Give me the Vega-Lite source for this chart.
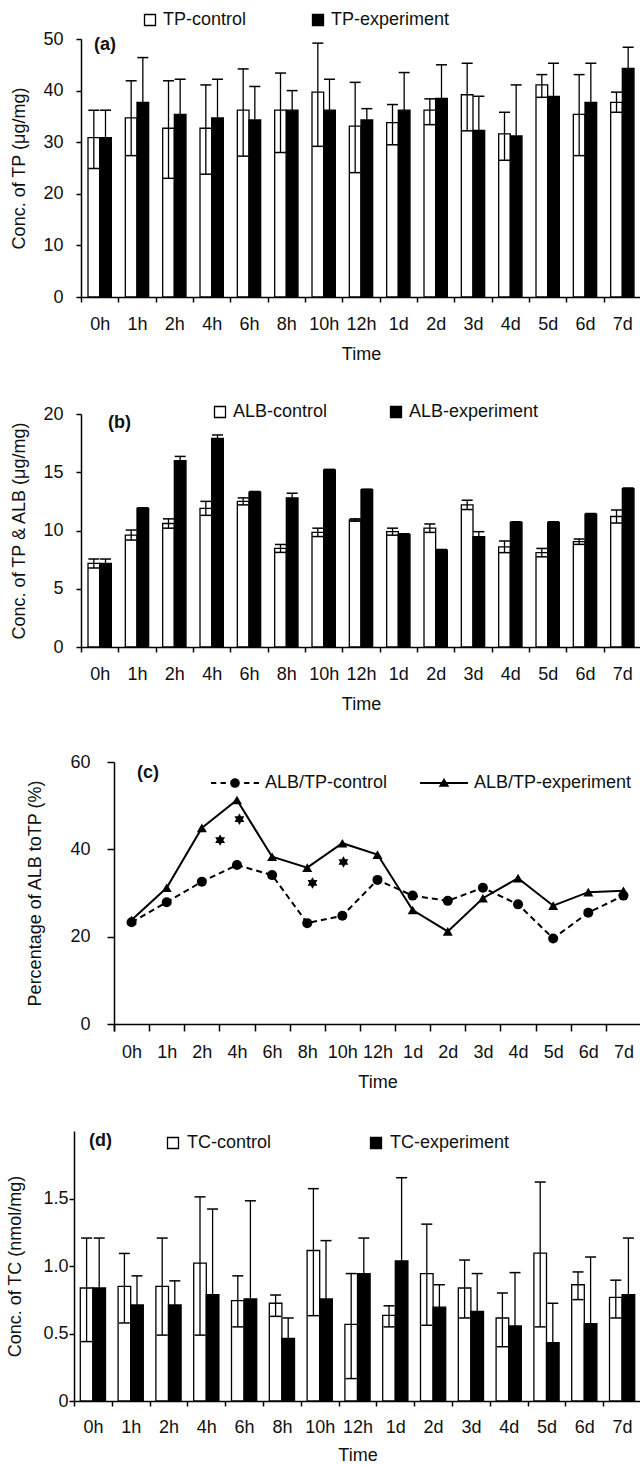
{
  "$schema": "https://vega.github.io/schema/vega-lite/v6.json",
  "background": "white",
  "padding": {"left": 6, "top": 11, "right": 0, "bottom": 0},
  "spacing": 40,
  "config": {
    "font": "Liberation Sans",
    "view": {"stroke": null},
    "axis": {
      "domainColor": "black", "domainWidth": 1.5, "tickColor": "black", "tickWidth": 1.5, "tickSize": 5,
      "labelFontSize": 18, "labelColor": "#111", "titleFontSize": 18, "titleFontWeight": "normal", "titleColor": "#111",
      "grid": false, "labelOverlap": false, "labelFont": "Liberation Sans", "titleFont": "Liberation Sans"
    },
    "axisX": {"labelAngle": 0, "labelPadding": 13, "titlePadding": 12, "tickBand": "extent", "labelFlush": false},
    "legend": {"labelFontSize": 18, "labelColor": "#111", "labelFont": "Liberation Sans"},
    "title": {"fontSize": 18, "fontWeight": "bold", "font": "Liberation Sans", "color": "#111"}
  },
  "resolve": {
    "scale": {"fill": "independent", "shape": "independent", "x": "independent", "y": "independent", "xOffset": "independent"},
    "legend": {"fill": "independent", "shape": "independent"}
  },
  "datasets": {
    "tp": [
      {"time": "0h", "series": "TP-control", "value": 30.9, "lo": 24.9, "hi": 36.2},
      {"time": "0h", "series": "TP-experiment", "value": 30.9, "lo": 25.6, "hi": 36.2},
      {"time": "1h", "series": "TP-control", "value": 34.7, "lo": 27.4, "hi": 41.9},
      {"time": "1h", "series": "TP-experiment", "value": 37.7, "lo": 29.0, "hi": 46.4},
      {"time": "2h", "series": "TP-control", "value": 32.7, "lo": 23.0, "hi": 41.9},
      {"time": "2h", "series": "TP-experiment", "value": 35.4, "lo": 28.6, "hi": 42.2},
      {"time": "4h", "series": "TP-control", "value": 32.7, "lo": 23.8, "hi": 41.1},
      {"time": "4h", "series": "TP-experiment", "value": 34.7, "lo": 27.2, "hi": 42.2},
      {"time": "6h", "series": "TP-control", "value": 36.2, "lo": 27.3, "hi": 44.2},
      {"time": "6h", "series": "TP-experiment", "value": 34.3, "lo": 27.8, "hi": 40.8},
      {"time": "8h", "series": "TP-control", "value": 36.2, "lo": 28.0, "hi": 43.4},
      {"time": "8h", "series": "TP-experiment", "value": 36.2, "lo": 32.4, "hi": 40.0},
      {"time": "10h", "series": "TP-control", "value": 39.7, "lo": 29.2, "hi": 49.2},
      {"time": "10h", "series": "TP-experiment", "value": 36.2, "lo": 30.2, "hi": 42.2},
      {"time": "12h", "series": "TP-control", "value": 33.1, "lo": 24.1, "hi": 41.6},
      {"time": "12h", "series": "TP-experiment", "value": 34.3, "lo": 32.1, "hi": 36.5},
      {"time": "1d", "series": "TP-control", "value": 33.8, "lo": 29.5, "hi": 37.3},
      {"time": "1d", "series": "TP-experiment", "value": 36.2, "lo": 28.9, "hi": 43.5},
      {"time": "2d", "series": "TP-control", "value": 36.2, "lo": 33.4, "hi": 38.4},
      {"time": "2d", "series": "TP-experiment", "value": 38.5, "lo": 32.0, "hi": 45.0},
      {"time": "3d", "series": "TP-control", "value": 39.2, "lo": 32.2, "hi": 45.3},
      {"time": "3d", "series": "TP-experiment", "value": 32.3, "lo": 25.7, "hi": 38.9},
      {"time": "4d", "series": "TP-control", "value": 31.6, "lo": 26.5, "hi": 35.8},
      {"time": "4d", "series": "TP-experiment", "value": 31.2, "lo": 21.3, "hi": 41.1},
      {"time": "5d", "series": "TP-control", "value": 41.1, "lo": 38.7, "hi": 43.1},
      {"time": "5d", "series": "TP-experiment", "value": 38.9, "lo": 32.5, "hi": 45.3},
      {"time": "6d", "series": "TP-control", "value": 35.4, "lo": 27.4, "hi": 43.1},
      {"time": "6d", "series": "TP-experiment", "value": 37.7, "lo": 30.1, "hi": 45.3},
      {"time": "7d", "series": "TP-control", "value": 37.7, "lo": 35.8, "hi": 39.7},
      {"time": "7d", "series": "TP-experiment", "value": 44.3, "lo": 40.2, "hi": 48.4}
    ],
    "alb": [
      {"time": "0h", "series": "ALB-control", "value": 7.17, "lo": 6.79, "hi": 7.55},
      {"time": "0h", "series": "ALB-experiment", "value": 7.17, "lo": 6.79, "hi": 7.55},
      {"time": "1h", "series": "ALB-control", "value": 9.61, "lo": 9.18, "hi": 10.04},
      {"time": "1h", "series": "ALB-experiment", "value": 11.9, "lo": 11.85, "hi": 11.95},
      {"time": "2h", "series": "ALB-control", "value": 10.6, "lo": 10.2, "hi": 11.0},
      {"time": "2h", "series": "ALB-experiment", "value": 16.0, "lo": 15.64, "hi": 16.36},
      {"time": "4h", "series": "ALB-control", "value": 11.9, "lo": 11.3, "hi": 12.5},
      {"time": "4h", "series": "ALB-experiment", "value": 17.9, "lo": 17.6, "hi": 18.2},
      {"time": "6h", "series": "ALB-control", "value": 12.5, "lo": 12.2, "hi": 12.8},
      {"time": "6h", "series": "ALB-experiment", "value": 13.3, "lo": 13.25, "hi": 13.35},
      {"time": "8h", "series": "ALB-control", "value": 8.46, "lo": 8.12, "hi": 8.8},
      {"time": "8h", "series": "ALB-experiment", "value": 12.8, "lo": 12.4, "hi": 13.2},
      {"time": "10h", "series": "ALB-control", "value": 9.84, "lo": 9.48, "hi": 10.2},
      {"time": "10h", "series": "ALB-experiment", "value": 15.2, "lo": 15.15, "hi": 15.25},
      {"time": "12h", "series": "ALB-control", "value": 10.9, "lo": 10.8, "hi": 11.0},
      {"time": "12h", "series": "ALB-experiment", "value": 13.5, "lo": 13.45, "hi": 13.55},
      {"time": "1d", "series": "ALB-control", "value": 9.9, "lo": 9.6, "hi": 10.2},
      {"time": "1d", "series": "ALB-experiment", "value": 9.67, "lo": 9.62, "hi": 9.72},
      {"time": "2d", "series": "ALB-control", "value": 10.2, "lo": 9.84, "hi": 10.56},
      {"time": "2d", "series": "ALB-experiment", "value": 8.32, "lo": 8.27, "hi": 8.37},
      {"time": "3d", "series": "ALB-control", "value": 12.2, "lo": 11.8, "hi": 12.6},
      {"time": "3d", "series": "ALB-experiment", "value": 9.47, "lo": 9.04, "hi": 9.9},
      {"time": "4d", "series": "ALB-control", "value": 8.6, "lo": 8.1, "hi": 9.1},
      {"time": "4d", "series": "ALB-experiment", "value": 10.7, "lo": 10.65, "hi": 10.75},
      {"time": "5d", "series": "ALB-control", "value": 8.1, "lo": 7.74, "hi": 8.46},
      {"time": "5d", "series": "ALB-experiment", "value": 10.7, "lo": 10.65, "hi": 10.75},
      {"time": "6d", "series": "ALB-control", "value": 9.04, "lo": 8.81, "hi": 9.27},
      {"time": "6d", "series": "ALB-experiment", "value": 11.4, "lo": 11.35, "hi": 11.45},
      {"time": "7d", "series": "ALB-control", "value": 11.2, "lo": 10.64, "hi": 11.76},
      {"time": "7d", "series": "ALB-experiment", "value": 13.6, "lo": 13.55, "hi": 13.65}
    ],
    "ratio": [
      {"time": "0h", "idx": 0, "series": "ALB/TP-control", "value": 23.3},
      {"time": "1h", "idx": 1, "series": "ALB/TP-control", "value": 27.9},
      {"time": "2h", "idx": 2, "series": "ALB/TP-control", "value": 32.6},
      {"time": "4h", "idx": 3, "series": "ALB/TP-control", "value": 36.4},
      {"time": "6h", "idx": 4, "series": "ALB/TP-control", "value": 34.1},
      {"time": "8h", "idx": 5, "series": "ALB/TP-control", "value": 23.1},
      {"time": "10h", "idx": 6, "series": "ALB/TP-control", "value": 24.8},
      {"time": "12h", "idx": 7, "series": "ALB/TP-control", "value": 33.0},
      {"time": "1d", "idx": 8, "series": "ALB/TP-control", "value": 29.4},
      {"time": "2d", "idx": 9, "series": "ALB/TP-control", "value": 28.2},
      {"time": "3d", "idx": 10, "series": "ALB/TP-control", "value": 31.2},
      {"time": "4d", "idx": 11, "series": "ALB/TP-control", "value": 27.4},
      {"time": "5d", "idx": 12, "series": "ALB/TP-control", "value": 19.6},
      {"time": "6d", "idx": 13, "series": "ALB/TP-control", "value": 25.5},
      {"time": "7d", "idx": 14, "series": "ALB/TP-control", "value": 29.4},
      {"time": "0h", "idx": 0, "series": "ALB/TP-experiment", "value": 23.8},
      {"time": "1h", "idx": 1, "series": "ALB/TP-experiment", "value": 31.2},
      {"time": "2h", "idx": 2, "series": "ALB/TP-experiment", "value": 44.9},
      {"time": "4h", "idx": 3, "series": "ALB/TP-experiment", "value": 51.3},
      {"time": "6h", "idx": 4, "series": "ALB/TP-experiment", "value": 38.3},
      {"time": "8h", "idx": 5, "series": "ALB/TP-experiment", "value": 35.8},
      {"time": "10h", "idx": 6, "series": "ALB/TP-experiment", "value": 41.4},
      {"time": "12h", "idx": 7, "series": "ALB/TP-experiment", "value": 38.8},
      {"time": "1d", "idx": 8, "series": "ALB/TP-experiment", "value": 26.1},
      {"time": "2d", "idx": 9, "series": "ALB/TP-experiment", "value": 21.2},
      {"time": "3d", "idx": 10, "series": "ALB/TP-experiment", "value": 28.8},
      {"time": "4d", "idx": 11, "series": "ALB/TP-experiment", "value": 33.4},
      {"time": "5d", "idx": 12, "series": "ALB/TP-experiment", "value": 27.1},
      {"time": "6d", "idx": 13, "series": "ALB/TP-experiment", "value": 30.2},
      {"time": "7d", "idx": 14, "series": "ALB/TP-experiment", "value": 30.5}
    ],
    "star": [
      {"idx": 2.52, "value": 42.1},
      {"idx": 3.07, "value": 46.9},
      {"idx": 5.15, "value": 32.3},
      {"idx": 6.03, "value": 37.1}
    ],
    "tc": [
      {"time": "0h", "series": "TC-control", "value": 0.837, "lo": 0.44, "hi": 1.207},
      {"time": "0h", "series": "TC-experiment", "value": 0.837, "lo": 0.467, "hi": 1.207},
      {"time": "1h", "series": "TC-control", "value": 0.849, "lo": 0.578, "hi": 1.093},
      {"time": "1h", "series": "TC-experiment", "value": 0.712, "lo": 0.497, "hi": 0.927},
      {"time": "2h", "series": "TC-control", "value": 0.849, "lo": 0.488, "hi": 1.207},
      {"time": "2h", "series": "TC-experiment", "value": 0.712, "lo": 0.534, "hi": 0.89},
      {"time": "4h", "series": "TC-control", "value": 1.022, "lo": 0.488, "hi": 1.512},
      {"time": "4h", "series": "TC-experiment", "value": 0.788, "lo": 0.154, "hi": 1.422},
      {"time": "6h", "series": "TC-control", "value": 0.744, "lo": 0.549, "hi": 0.927},
      {"time": "6h", "series": "TC-experiment", "value": 0.756, "lo": 0.029, "hi": 1.483},
      {"time": "8h", "series": "TC-control", "value": 0.724, "lo": 0.627, "hi": 0.785},
      {"time": "8h", "series": "TC-experiment", "value": 0.463, "lo": 0.311, "hi": 0.615},
      {"time": "10h", "series": "TC-control", "value": 1.115, "lo": 0.632, "hi": 1.573},
      {"time": "10h", "series": "TC-experiment", "value": 0.756, "lo": 0.324, "hi": 1.188},
      {"time": "12h", "series": "TC-control", "value": 0.568, "lo": 0.166, "hi": 0.944},
      {"time": "12h", "series": "TC-experiment", "value": 0.944, "lo": 0.681, "hi": 1.207},
      {"time": "1d", "series": "TC-control", "value": 0.634, "lo": 0.549, "hi": 0.705},
      {"time": "1d", "series": "TC-experiment", "value": 1.037, "lo": 0.42, "hi": 1.654},
      {"time": "2d", "series": "TC-control", "value": 0.944, "lo": 0.561, "hi": 1.31},
      {"time": "2d", "series": "TC-experiment", "value": 0.695, "lo": 0.529, "hi": 0.861},
      {"time": "3d", "series": "TC-control", "value": 0.837, "lo": 0.615, "hi": 1.044},
      {"time": "3d", "series": "TC-experiment", "value": 0.663, "lo": 0.382, "hi": 0.944},
      {"time": "4d", "series": "TC-control", "value": 0.615, "lo": 0.402, "hi": 0.8},
      {"time": "4d", "series": "TC-experiment", "value": 0.556, "lo": 0.161, "hi": 0.951},
      {"time": "5d", "series": "TC-control", "value": 1.095, "lo": 0.549, "hi": 1.622},
      {"time": "5d", "series": "TC-experiment", "value": 0.432, "lo": 0.14, "hi": 0.724},
      {"time": "6d", "series": "TC-control", "value": 0.861, "lo": 0.751, "hi": 0.956},
      {"time": "6d", "series": "TC-experiment", "value": 0.573, "lo": 0.08, "hi": 1.066},
      {"time": "7d", "series": "TC-control", "value": 0.768, "lo": 0.615, "hi": 0.895},
      {"time": "7d", "series": "TC-experiment", "value": 0.788, "lo": 0.369, "hi": 1.207}
    ]
  },
  "vconcat": [
    {
      "width": 567, "height": 258,
      "title": {"text": "(a)", "anchor": "start", "frame": "group", "dx": 20, "dy": 43, "offset": 0},
      "data": {"name": "tp"},
      "encoding": {
        "x": {"field": "time", "type": "nominal", "sort": null, "title": "Time",
              "scale": {"domain": ["0h","1h","2h","4h","6h","8h","10h","12h","1d","2d","3d","4d","5d","6d","7d"], "paddingInner": 0, "paddingOuter": 0, "range": [7, 567]}},
        "xOffset": {"field": "series", "type": "nominal", "sort": null, "scale": {"paddingInner": 0, "paddingOuter": 0.6}}
      },
      "layer": [
        {"mark": {"type": "bar", "stroke": "black", "strokeWidth": 1.3},
         "encoding": {
           "y": {"field": "value", "type": "quantitative", "title": "Conc. of TP (μg/mg)",
                 "scale": {"domain": [0, 50], "nice": false},
                 "axis": {"values": [0, 10, 20, 30, 40, 50], "labelPadding": 13, "titlePadding": 14, "offset": -7}},
           "fill": {"field": "series", "type": "nominal", "sort": null,
                    "scale": {"domain": ["TP-control", "TP-experiment"], "range": ["white", "black"]},
                    "legend": {"title": null, "orient": "none", "legendX": 67, "legendY": -28, "direction": "horizontal", "columns": 2, "columnPadding": 62,
                               "symbolType": "square", "symbolSize": 121, "symbolStrokeColor": "black", "symbolStrokeWidth": 1.3, "labelOffset": 4}}
         }},
        {"mark": {"type": "rule", "color": "black", "strokeWidth": 1.3},
         "encoding": {"y": {"field": "lo", "type": "quantitative", "title": "Conc. of TP (μg/mg)"}, "y2": {"field": "hi"}}},
        {"mark": {"type": "tick", "color": "black", "thickness": 1.5, "size": 11, "orient": "horizontal", "opacity": 1},
         "encoding": {"y": {"field": "hi", "type": "quantitative", "title": "Conc. of TP (μg/mg)"}}},
        {"mark": {"type": "tick", "color": "black", "thickness": 1.5, "size": 11, "orient": "horizontal", "opacity": 1},
         "encoding": {"y": {"field": "lo", "type": "quantitative", "title": "Conc. of TP (μg/mg)"}}}
      ]
    },
    {
      "width": 567, "height": 233,
      "title": {"text": "(b)", "anchor": "start", "frame": "group", "dx": 34, "dy": 29, "offset": 0},
      "data": {"name": "alb"},
      "encoding": {
        "x": {"field": "time", "type": "nominal", "sort": null, "title": "Time",
              "scale": {"domain": ["0h","1h","2h","4h","6h","8h","10h","12h","1d","2d","3d","4d","5d","6d","7d"], "paddingInner": 0, "paddingOuter": 0, "range": [7, 567]}},
        "xOffset": {"field": "series", "type": "nominal", "sort": null, "scale": {"paddingInner": 0, "paddingOuter": 0.6}}
      },
      "layer": [
        {"mark": {"type": "bar", "stroke": "black", "strokeWidth": 1.3},
         "encoding": {
           "y": {"field": "value", "type": "quantitative", "title": "Conc. of TP & ALB (μg/mg)",
                 "scale": {"domain": [0, 20], "nice": false},
                 "axis": {"values": [0, 5, 10, 15, 20], "labelPadding": 13, "titlePadding": 14, "offset": -7}},
           "fill": {"field": "series", "type": "nominal", "sort": null,
                    "scale": {"domain": ["ALB-control", "ALB-experiment"], "range": ["white", "black"]},
                    "legend": {"title": null, "orient": "none", "legendX": 137, "legendY": -11, "direction": "horizontal", "columns": 2, "columnPadding": 59,
                               "symbolType": "square", "symbolSize": 121, "symbolStrokeColor": "black", "symbolStrokeWidth": 1.3, "labelOffset": 4}}
         }},
        {"mark": {"type": "rule", "color": "black", "strokeWidth": 1.3},
         "encoding": {"y": {"field": "lo", "type": "quantitative", "title": "Conc. of TP & ALB (μg/mg)"}, "y2": {"field": "hi"}}},
        {"mark": {"type": "tick", "color": "black", "thickness": 1.5, "size": 11, "orient": "horizontal", "opacity": 1},
         "encoding": {"y": {"field": "hi", "type": "quantitative", "title": "Conc. of TP & ALB (μg/mg)"}}},
        {"mark": {"type": "tick", "color": "black", "thickness": 1.5, "size": 11, "orient": "horizontal", "opacity": 1},
         "encoding": {"y": {"field": "lo", "type": "quantitative", "title": "Conc. of TP & ALB (μg/mg)"}}}
      ]
    },
    {
      "width": 567, "height": 262,
      "title": {"text": "(c)", "anchor": "start", "frame": "group", "dx": 63, "dy": 29, "offset": 0},
      "encoding": {
        "x": {"field": "idx", "type": "quantitative", "title": "Time",
              "scale": {"domain": [-0.5, 14.5], "nice": false, "zero": false, "range": [40, 567]},
              "axis": {"values": [-0.5, 0.5, 1.5, 2.5, 3.5, 4.5, 5.5, 6.5, 7.5, 8.5, 9.5, 10.5, 11.5, 12.5, 13.5, 14.5],
                       "labelExpr": "['0h','1h','2h','4h','6h','8h','10h','12h','1d','2d','3d','4d','5d','6d','7d',''][datum.value + 0.5]",
                       "labelOffset": 17.567, "tickSize": 7, "labelPadding": 12}},
        "y": {"field": "value", "type": "quantitative", "title": "Percentage of ALB toTP (%)",
              "scale": {"domain": [0, 60], "nice": false},
              "axis": {"values": [0, 20, 40, 60], "tickSize": 7, "labelPadding": 17, "titlePadding": 25, "offset": -40}}
      },
      "layer": [
        {"data": {"name": "ratio"},
         "transform": [{"filter": "datum.series == 'ALB/TP-control'"}],
         "mark": {"type": "line", "color": "black", "strokeWidth": 2, "strokeDash": [6, 4]}},
        {"data": {"name": "ratio"},
         "transform": [{"filter": "datum.series == 'ALB/TP-experiment'"}],
         "mark": {"type": "line", "color": "black", "strokeWidth": 2}},
        {"data": {"name": "ratio"},
         "transform": [{"filter": "datum.series == 'ALB/TP-control'"}],
         "mark": {"type": "point", "shape": "circle", "filled": true, "color": "black", "size": 100, "opacity": 1}},
        {"data": {"name": "ratio"},
         "transform": [{"filter": "datum.series == 'ALB/TP-experiment'"}],
         "mark": {"type": "point", "shape": "triangle-up", "filled": true, "color": "black", "size": 100, "opacity": 1}},
        {"data": {"name": "star"},
         "mark": {"type": "point", "shape": "M0,-1L0.866,0.5L-0.866,0.5Z M0,1L-0.866,-0.5L0.866,-0.5Z", "filled": true, "color": "black", "size": 130, "opacity": 1}},
        {"data": {"name": "ratio"},
         "mark": {"type": "point", "filled": true, "color": "black", "opacity": 1, "size": 0},
         "encoding": {"shape": {"field": "series", "type": "nominal", "sort": null,
                                "scale": {"domain": ["ALB/TP-control", "ALB/TP-experiment"],
                                          "range": ["M-1 -0.04H-0.78V0.04H-1Z M-0.6 -0.04H-0.38V0.04H-0.6Z M0.38 -0.04H0.6V0.04H0.38Z M0.78 -0.04H1V0.04H0.78Z M-0.2 0A0.2 0.2 0 1 1 0.2 0A0.2 0.2 0 1 1 -0.2 0Z",
                                                    "M-1 -0.04H1V0.04H-1Z M0 -0.21L0.22 0.16L-0.22 0.16Z"]},
                                "legend": {"title": null, "orient": "none", "legendX": 137, "legendY": -3, "direction": "horizontal", "columns": 2, "columnPadding": 32,
                                           "symbolSize": 2304, "symbolStrokeWidth": 0, "symbolFillColor": "black", "symbolOpacity": 1, "labelOffset": 6}}}}
      ]
    },
    {
      "width": 567, "height": 270,
      "title": {"text": "(d)", "anchor": "start", "frame": "group", "dx": 15, "dy": 19, "offset": 0},
      "data": {"name": "tc"},
      "encoding": {
        "x": {"field": "time", "type": "nominal", "sort": null, "title": "Time",
              "scale": {"domain": ["0h","1h","2h","4h","6h","8h","10h","12h","1d","2d","3d","4d","5d","6d","7d"], "paddingInner": 0, "paddingOuter": 0},
              "axis": {"titlePadding": 10, "labelPadding": 12}},
        "xOffset": {"field": "series", "type": "nominal", "sort": null, "scale": {"paddingInner": 0, "paddingOuter": 0.5}}
      },
      "layer": [
        {"mark": {"type": "bar", "stroke": "black", "strokeWidth": 1.3},
         "encoding": {
           "y": {"field": "value", "type": "quantitative", "title": "Conc. of TC (nmol/mg)",
                 "scale": {"domain": [0, 2], "nice": false},
                 "axis": {"values": [0, 0.5, 1, 1.5], "labelExpr": "datum.value == 0 ? '0' : format(datum.value, '.1f')", "labelPadding": 1, "titlePadding": 18}},
           "fill": {"field": "series", "type": "nominal", "sort": null,
                    "scale": {"domain": ["TC-control", "TC-experiment"], "range": ["white", "black"]},
                    "legend": {"title": null, "orient": "none", "legendX": 90, "legendY": 3, "direction": "horizontal", "columns": 2, "columnPadding": 95,
                               "symbolType": "square", "symbolSize": 121, "symbolStrokeColor": "black", "symbolStrokeWidth": 1.3, "labelOffset": 5}}
         }},
        {"mark": {"type": "rule", "color": "black", "strokeWidth": 1.3},
         "encoding": {"y": {"field": "lo", "type": "quantitative", "title": "Conc. of TC (nmol/mg)"}, "y2": {"field": "hi"}}},
        {"mark": {"type": "tick", "color": "black", "thickness": 1.5, "size": 11, "orient": "horizontal", "opacity": 1},
         "encoding": {"y": {"field": "hi", "type": "quantitative", "title": "Conc. of TC (nmol/mg)"}}},
        {"mark": {"type": "tick", "color": "black", "thickness": 1.5, "size": 11, "orient": "horizontal", "opacity": 1},
         "encoding": {"y": {"field": "lo", "type": "quantitative", "title": "Conc. of TC (nmol/mg)"}}}
      ]
    }
  ]
}
